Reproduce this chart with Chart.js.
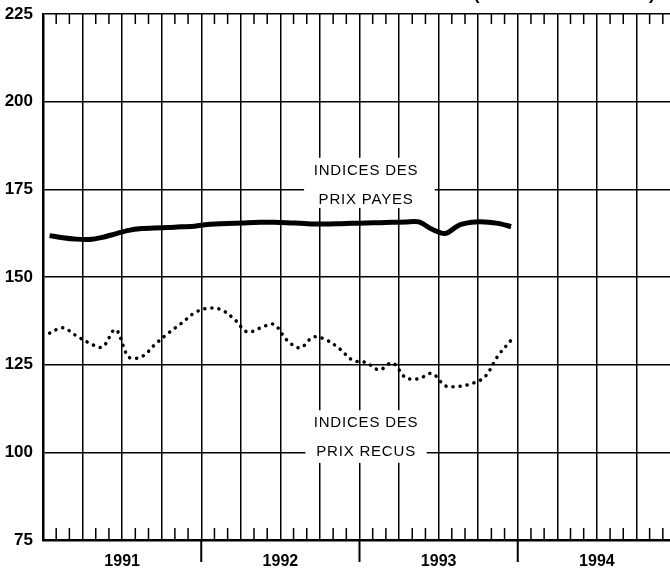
<!DOCTYPE html>
<html>
<head>
<meta charset="utf-8">
<script src="https://cdn.jsdelivr.net/npm/chart.js@4.4.1/dist/chart.umd.min.js"></script>
<style>
  html, body { margin: 0; padding: 0; background: #fff; overflow: hidden; }
  #wrap { width: 688px; height: 575px; }
</style>
</head>
<body>
<div id="wrap"><canvas id="prixChart" width="688" height="575"></canvas></div>
<script>
// Years on the time axis (monthly data, Jan 1991 - Dec 1993)
const years = ['1991', '1992', '1993', '1994'];
const yTicks = [75, 100, 125, 150, 175, 200, 225];

// Indices des prix payes (solid line)
const prixPayes = [161.8, 161.2, 160.8, 160.7, 161.3, 162.3, 163.3, 163.8, 164.0, 164.1, 164.3, 164.5,
                   165.0, 165.2, 165.3, 165.5, 165.6, 165.6, 165.5, 165.3, 165.1, 165.1, 165.2, 165.3,
                   165.4, 165.5, 165.6, 165.7, 165.7, 163.6, 162.4, 164.7, 165.6, 165.7, 165.3, 164.4];

// Indices des prix recus (dotted line)
const prixRecus = [134.0, 135.5, 133.3, 131.2, 130.0, 135.0, 127.2, 127.3, 130.8, 134.0, 136.8, 139.8,
                   141.1, 140.7, 138.0, 134.3, 135.5, 136.5, 132.0, 129.8, 132.9, 132.0, 129.5, 126.2,
                   125.6, 123.5, 125.5, 121.3, 121.0, 122.5, 119.0, 118.8, 119.6, 121.5, 127.5, 132.0];

// month i is plotted at the middle of the month
const toPoints = arr => arr.map((v, i) => ({ x: i + 0.5, y: v }));

// ====== extra marks: month ticks, year separators, text labels ======
const marks = {
    id: 'marks',
    afterDatasetsDraw(chart) {
        const { ctx, scales: { x, y } } = chart;
        const boxes = [
            { x0: 19.8, x1: 29.7, y0: 184, y1: 169.7, lines: ['INDICES DES', 'PRIX PAYES'], at: 24.5, ys: [180.2, 172] },
            { x0: 19.9, x1: 29.1, y0: 112, y1: 97, lines: ['INDICES DES', 'PRIX RECUS'], at: 24.5, ys: [108.3, 100.1] }
        ];
        ctx.save();
        boxes.forEach(b => {
            const l = x.getPixelForValue(b.x0), r = x.getPixelForValue(b.x1);
            const t = y.getPixelForValue(b.y0), btm = y.getPixelForValue(b.y1);
            ctx.fillStyle = '#fff';
            ctx.fillRect(l, t, r - l, btm - t);
            ctx.fillStyle = '#000';
            ctx.font = '15px "Liberation Sans", Arial, sans-serif';
            ctx.letterSpacing = '0.8px';
            ctx.textAlign = 'center';
            ctx.textBaseline = 'middle';
            b.lines.forEach((txt, k) => ctx.fillText(txt, x.getPixelForValue(b.at), y.getPixelForValue(b.ys[k])));
        });
        ctx.restore();
    },
    afterDraw(chart) {
        const { ctx, chartArea: a, scales: { x } } = chart;
        ctx.save();
        ctx.strokeStyle = '#000';
        ctx.lineWidth = 1.5;
        for (let m = 1; m < years.length * 12; m++) {
            if (m % 3 === 0) continue;
            const px = x.getPixelForValue(m);
            ctx.beginPath();
            ctx.moveTo(px, a.top); ctx.lineTo(px, a.top + 10);
            ctx.moveTo(px, a.bottom); ctx.lineTo(px, a.bottom - 12);
            ctx.stroke();
        }
        ctx.lineWidth = 2;
        for (let k = 1; k < years.length; k++) {
            const px = x.getPixelForValue(k * 12);
            ctx.beginPath();
            ctx.moveTo(px, a.bottom); ctx.lineTo(px, a.bottom + 22);
            ctx.stroke();
        }
        // title, cut off by the top of the page
        ctx.fillStyle = '#000';
        ctx.font = 'bold 18px "Liberation Sans", Arial, sans-serif';
        ctx.letterSpacing = '1.5px';
        ctx.textAlign = 'center';
        ctx.textBaseline = 'alphabetic';
        ctx.fillText('(BASE 1977 = 100)', 565, -1);
        ctx.restore();
    }
};

const ctx = document.getElementById('prixChart').getContext('2d');
new Chart(ctx, {
    type: 'line',
    data: {
        datasets: [{
            label: 'Indices des prix payes',
            data: toPoints(prixPayes),
            borderColor: '#000',
            borderWidth: 5,
            pointRadius: 0,
            tension: 0.3
        }, {
            label: 'Indices des prix recus',
            data: toPoints(prixRecus),
            borderColor: '#000',
            borderWidth: 3.5,
            borderDash: [0.1, 7],
            borderCapStyle: 'round',
            pointRadius: 0,
            tension: 0.35
        }]
    },
    options: {
        responsive: false,
        animation: false,
        devicePixelRatio: 1,
        layout: { padding: { top: 14, right: 5, left: 0, bottom: 0 } },
        plugins: { legend: { display: false }, tooltip: { enabled: false } },
        scales: {
            x: {
                type: 'linear',
                min: 0,
                max: years.length * 12,
                afterFit: s => { s.height = 35; },
                ticks: {
                    stepSize: 3,
                    autoSkip: false,
                    maxRotation: 0,
                    padding: 12,
                    color: '#000',
                    font: { family: '"Liberation Sans", Arial, sans-serif', size: 16, weight: 'bold' },
                    callback: v => (v % 12 === 6 ? years[(v - 6) / 12] : '')
                },
                grid: { color: '#000', lineWidth: 1.5, drawTicks: false },
                border: { color: '#000', width: 2.5 }
            },
            y: {
                min: yTicks[0],
                max: yTicks[yTicks.length - 1],
                afterFit: s => { s.width = 43; s.paddingTop = 0; s.paddingBottom = 0; },
                afterBuildTicks: s => { s.ticks = yTicks.map(v => ({ value: v })); },
                ticks: {
                    padding: 10,
                    color: '#000',
                    font: { family: '"Liberation Sans", Arial, sans-serif', size: 17, weight: 'bold' }
                },
                grid: { color: '#000', lineWidth: 1.5, drawTicks: false },
                border: { color: '#000', width: 2.5 }
            }
        }
    },
    plugins: [marks]
});
</script>
</body>
</html>
